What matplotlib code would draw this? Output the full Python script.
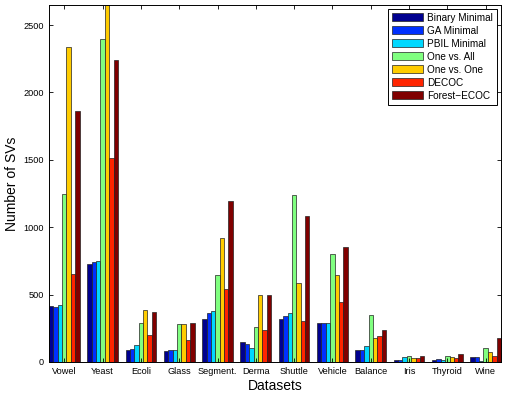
import matplotlib
matplotlib.use("Agg")
import matplotlib.pyplot as plt
import numpy as np

plt.rcParams['font.family'] = ['Liberation Sans', 'DejaVu Sans']

datasets = ["Vowel", "Yeast", "Ecoli", "Glass", "Segment.", "Derma", "Shuttle",
            "Vehicle", "Balance", "Iris", "Thyroid", "Wine"]
methods = ["Binary Minimal", "GA Minimal", "PBIL Minimal", "One vs. All",
           "One vs. One", "DECOC", "Forest\u2212ECOC"]

binary_minimal = [415, 729, 90, 80, 320, 145, 320, 290, 85, 15, 15, 40]
ga_minimal     = [408, 742, 95, 85, 365, 130, 340, 290, 85, 15, 20, 40]
pbil_minimal   = [425, 747, 125, 85, 380, 105, 365, 285, 120, 35, 12, 10]
one_vs_all     = [1246, 2394, 290, 280, 645, 260, 1240, 800, 350, 45, 45, 100]
one_vs_one     = [2335, 2900, 385, 280, 920, 500, 585, 645, 180, 30, 40, 75]
decoc          = [650, 1511, 200, 165, 540, 240, 300, 445, 190, 28, 28, 45]
forest_ecoc    = [1862, 2238, 370, 285, 1195, 500, 1085, 855, 240, 45, 60, 175]

series = [binary_minimal, ga_minimal, pbil_minimal, one_vs_all,
          one_vs_one, decoc, forest_ecoc]
colors = ["#00008F", "#0030FF", "#00D8FF", "#80FF80", "#FFCC00", "#FF2400", "#800000"]

fig = plt.figure(figsize=(5.05, 3.99), dpi=100)
ax = fig.add_axes([0.097, 0.093, 0.895, 0.895])

x = np.arange(1, len(datasets) + 1)
n = len(series)
group_w = 0.8
bw = group_w / n
for i, (vals, c, lab) in enumerate(zip(series, colors, methods)):
    offs = -group_w / 2 + bw * (i + 0.5)
    ax.bar(x + offs, vals, width=bw, color=c, edgecolor="#222222",
           linewidth=0.5, label=lab)

ax.set_xlim(0.6, len(datasets) + 0.4)
ax.set_ylim(0, 2650)
ax.set_xticks(x)
ax.set_xticklabels(datasets, fontsize=6.6)
ax.set_yticks([0, 500, 1000, 1500, 2000, 2500])
ax.tick_params(axis='y', labelsize=6.6)
ax.tick_params(direction='in', top=True, right=True, length=3, width=0.6)
for s in ax.spines.values():
    s.set_linewidth(0.7)

ax.set_xlabel("Datasets", fontsize=10, labelpad=2)
ax.set_ylabel("Number of SVs", fontsize=10, labelpad=3)

leg = ax.legend(loc="upper right", fontsize=7.2, fancybox=False, framealpha=1,
                edgecolor="black", handlelength=3.1, handleheight=0.9,
                borderaxespad=0.4, labelspacing=0.3, handletextpad=0.45,
                borderpad=0.4)
leg.get_frame().set_linewidth(0.7)

fig.savefig("out.png", dpi=100)
